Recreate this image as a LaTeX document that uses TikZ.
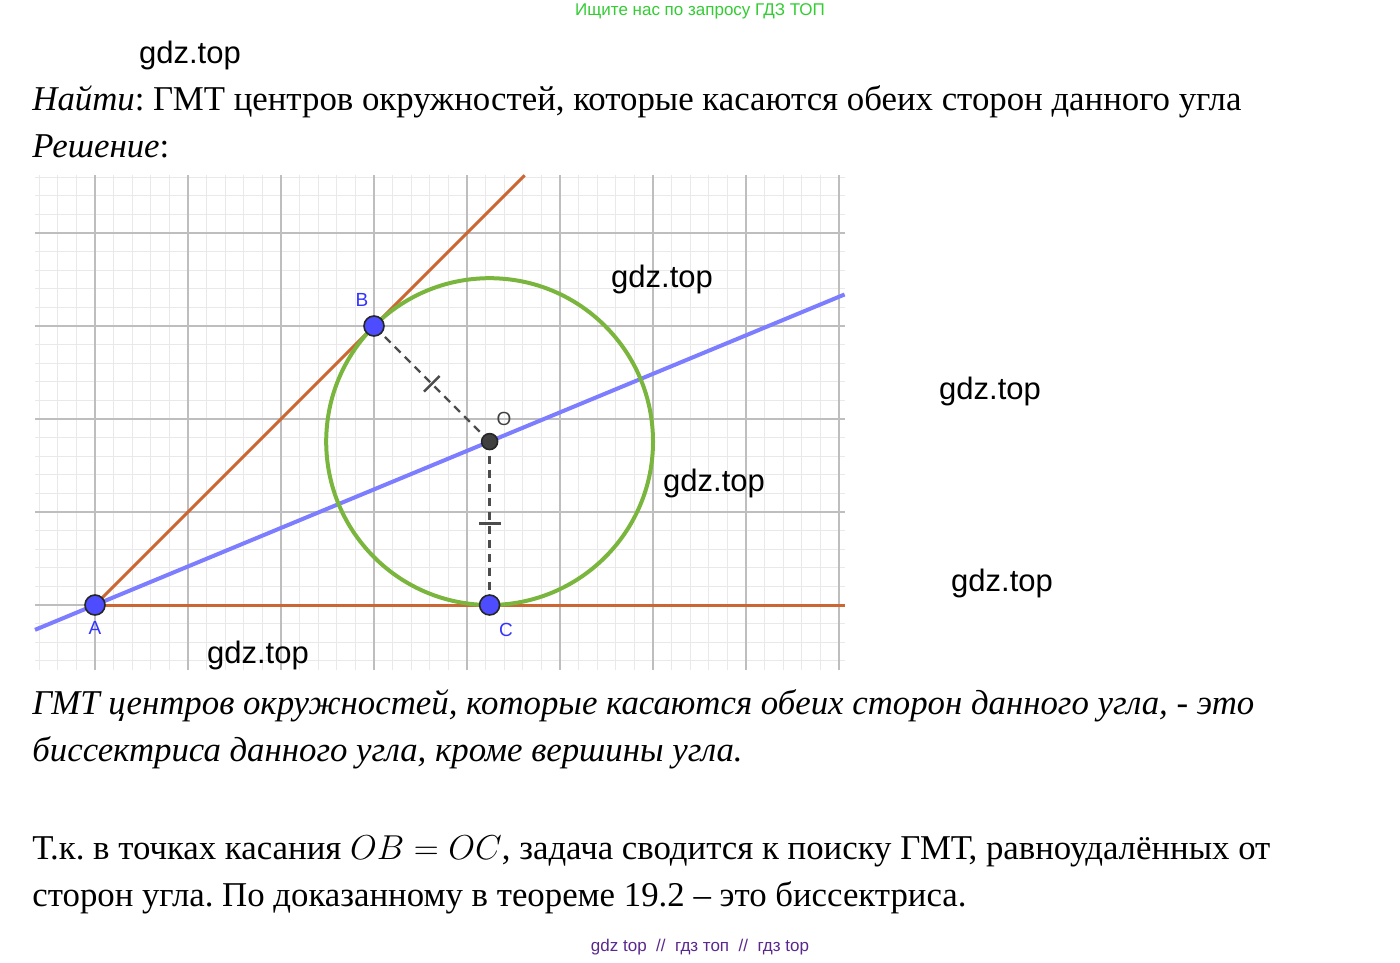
\documentclass[tikz,border=0pt]{standalone}
\usepackage{fontspec}
\setmainfont{Liberation Serif}
\newfontfamily\wmfont{Liberation Sans}
\usetikzlibrary{calc}
\frenchspacing
\definecolor{ggbOrange}{RGB}{204,102,51}
\definecolor{ggbGreen}{RGB}{122,182,62}
\definecolor{ggbBlue}{RGB}{125,125,255}
\definecolor{ptBlue}{RGB}{77,77,255}
\definecolor{lblBlue}{RGB}{51,51,255}
\definecolor{minorGray}{RGB}{233,233,233}
\definecolor{majorGray}{RGB}{190,190,190}
\definecolor{adGreen}{RGB}{51,204,51}
\definecolor{adPurple}{RGB}{90,40,140}

\begin{document}
\begin{tikzpicture}[x=0.5pt,y=-0.5pt,
    txt/.style={anchor=base west,inner sep=0pt,font=\fontsize{17.4}{20}\selectfont},
    wm/.style={inner sep=0pt,font=\wmfont\fontsize{15.5}{18}\selectfont},
    ad/.style={inner sep=0pt,font=\wmfont\fontsize{8.5}{10}\selectfont},
    pt/.style={circle,draw=black!85,fill=ptBlue,line width=0.8pt,minimum size=10pt,inner sep=0pt},
    ptlbl/.style={inner sep=0pt,text=lblBlue,font=\wmfont\fontsize{9.5}{11}\selectfont},
    radius/.style={black!70,line width=1.2pt,dash pattern=on 4pt off 3pt},
    tick/.style={black!70,line width=1.2pt}]
    \useasboundingbox (0,0) rectangle (1400,962);

    % Texts
    \node[ad,text=adGreen] (ad) at (700,11) {Ищите нас по запросу ГДЗ ТОП};
    \node[txt] (find) at (32,111) {\textit{Найти}: ГМТ центров окружностей, которые касаются обеих сторон данного угла};
    \node[txt] (sol) at (32,158) {\textit{Решение}:};
    \node[txt] (ans1) at (32,714) {\itshape ГМТ центров окружностей, которые касаются обеих сторон данного угла, - это};
    \node[txt] (ans2) at (32,761) {\itshape биссектриса данного угла, кроме вершины угла.};
    \node[txt] (expl1) at (32,859) {Т.к. в точках касания $OB = OC$, задача сводится к поиску ГМТ, равноудалённых от};
    \node[txt] (expl2) at (32,906) {сторон угла. По доказанному в теореме 19.2 -- это биссектриса.};
    \node[ad,text=adPurple] (foot) at (700,947) {gdz top\ \ //\ \ гдз топ\ \ //\ \ гдз top};

    \begin{scope}[shift={(47.5pt,-302.5pt)},x=46.5pt,y=46.5pt]
        % Grid
        \draw[minorGray,line width=0.5pt] (-0.645,-0.7) grid[step=0.2] (8.06,4.62);
        \draw[majorGray,line width=1pt] (-0.645,-0.7) grid[step=1] (8.06,4.62);

        \coordinate (pA) at (0,0);
        \coordinate (pB) at (3,3);
        \coordinate (pC) at (4.243,0);
        \coordinate (pO) at (4.243,1.757);
        \coordinate (rayB) at (4.62,4.62);
        \coordinate (rayC) at (8.06,0);
        \coordinate (bisL) at (-0.645,-0.267);
        \coordinate (bisR) at (8.06,3.339);

        % Sides, bisector, circle
        \draw[ggbBlue,line width=2pt] (bisL) -- (bisR);
        \draw[ggbOrange,line width=1.5pt] (pA) -- (rayB);
        \draw[ggbOrange,line width=1.5pt] (pA) -- (rayC);
        \draw[ggbGreen,line width=2pt] (pO) circle (1.757);

        % Radii with equal marks
        \draw[radius] (pO) -- (pB);
        \draw[radius] (pO) -- (pC);
        \draw[tick] ($(pO)!0.5!(pB)!5.5pt!90:(pB)$) -- ($(pO)!0.5!(pB)!5.5pt!-90:(pB)$);
        \draw[tick] ($(pO)!0.5!(pC)!5.5pt!90:(pC)$) -- ($(pO)!0.5!(pC)!5.5pt!-90:(pC)$);

        % Points
        \node[pt] (A) at (pA) {};
        \node[pt] (B) at (pB) {};
        \node[pt] (C) at (pC) {};
        \node[pt,fill=black!75,minimum size=8pt] (O) at (pO) {};
    \end{scope}

    % Point labels
    \node[ptlbl] (lblB) at (362,300) {B};
    \node[ptlbl] (lblA) at (95,628) {A};
    \node[ptlbl] (lblC) at (506,630) {C};
    \node[ptlbl,text=black!75] (lblO) at (504,419) {O};

    % Watermarks
    \node[wm] (wm1) at (190,55) {gdz.top};
    \node[wm] (wm2) at (662,279) {gdz.top};
    \node[wm] (wm3) at (990,391) {gdz.top};
    \node[wm] (wm4) at (714,483) {gdz.top};
    \node[wm] (wm5) at (1002,583) {gdz.top};
    \node[wm] (wm6) at (258,655) {gdz.top};
\end{tikzpicture}
\end{document}
